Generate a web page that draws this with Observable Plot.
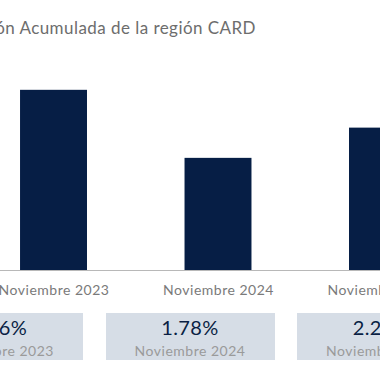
<!DOCTYPE html>
<html>
<head>
<meta charset="utf-8">
<script src="https://cdn.jsdelivr.net/npm/d3@7"></script>
<script src="https://cdn.jsdelivr.net/npm/@observablehq/plot@0.6"></script>
<style>
  html, body { margin: 0; padding: 0; background: #fff; }
  body { width: 380px; height: 380px; overflow: hidden; position: relative; font-family: Lato, "Open Sans", sans-serif; }
  #title { position: absolute; top: 18px; right: 124px; white-space: nowrap; font-size: 17px; letter-spacing: 0.45px; line-height: 1.2; color: #6d6d6d; }
  #chart { position: absolute; top: 0; left: 0; }
  .card { position: absolute; top: 313px; width: 169px; height: 47px; background: #d6dde6; }
  .card .val { position: absolute; left: 0; right: 0; top: 2px; text-align: center; font-size: 20px; letter-spacing: 0.4px; line-height: 1.2; color: #0a1f44; white-space: nowrap; }
  .card .lab { position: absolute; left: 0; right: 0; top: 30px; text-align: center; font-size: 14px; letter-spacing: 0.5px; line-height: 1.2; color: #9a9a9a; white-space: nowrap; }
</style>
</head>
<body>
<div id="title">Inflación Acumulada de la región CARD</div>
<div id="chart"></div>
<div id="cards"></div>
<script>
const categories = ["Noviembre 2023", "Noviembre 2024", "Noviembre 2025"];
const values = [2.86, 1.78, 2.26];
const valueLabels = ["2.86%", "1.78%", "2.26%"];

const data = categories.map((c, i) => ({category: c, value: values[i]}));

const chart = Plot.plot({
  width: 380,
  height: 305,
  marginTop: 81,
  marginBottom: 35,
  marginLeft: 0,
  marginRight: 0,
  style: {fontFamily: "Lato, 'Open Sans', sans-serif", background: "transparent", letterSpacing: "0.5px"},
  x: {type: "band", domain: categories, range: [-77.5, 513.5], padding: 0.593, round: false},
  y: {domain: [0, 3], axis: null},
  marks: [
    Plot.barY(data, {x: "category", y: "value", fill: "#061e45"}),
    Plot.ruleY([0], {stroke: "#b8b8b8", strokeWidth: 1.2}),
    Plot.axisX({tickSize: 0, tickPadding: 15, fontSize: 14, color: "#7a7a7a", label: null})
  ]
});
document.getElementById("chart").appendChild(chart);

const cards = document.getElementById("cards");
const cardStep = 191.5, cardLeft0 = -86;
categories.forEach((c, i) => {
  const card = document.createElement("div");
  card.className = "card";
  card.style.left = (cardLeft0 + i * cardStep) + "px";
  const v = document.createElement("div");
  v.className = "val";
  v.textContent = valueLabels[i];
  const l = document.createElement("div");
  l.className = "lab";
  l.textContent = c;
  card.appendChild(v);
  card.appendChild(l);
  cards.appendChild(card);
});
</script>
</body>
</html>
